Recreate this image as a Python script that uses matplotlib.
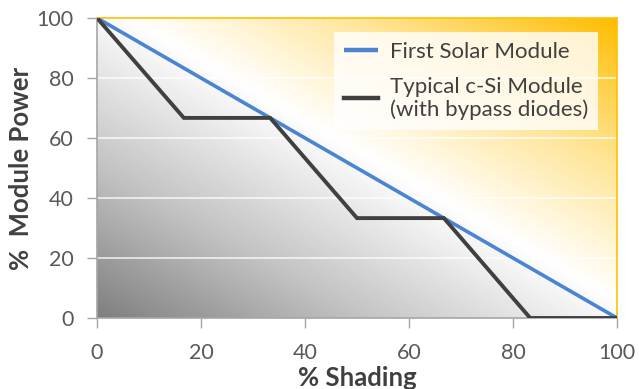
import numpy as np
import matplotlib
matplotlib.use("Agg")
import matplotlib.pyplot as plt
from matplotlib.colors import LinearSegmentedColormap

plt.rcParams['font.family'] = ['Lato', 'DejaVu Sans']

shading_fs = [0, 100]
power_fs = [100, 0]
shading_si = [0, 16.7, 33.3, 50, 66.7, 83.3, 100]
power_si = [100, 66.7, 66.7, 33.3, 33.3, 0, 0]
xticks = [0, 20, 40, 60, 80, 100]
yticks = [0, 20, 40, 60, 80, 100]

fig = plt.figure(figsize=(6.39, 3.89), dpi=100)
ax = fig.add_axes([97/639, 1-318/389, 520/639, 300/389])

# background gradient
n = 300
xx, yy = np.meshgrid(np.linspace(0, 1, n), np.linspace(0, 1, n))
t = (xx + yy) / 2
cmap = LinearSegmentedColormap.from_list('bg', [
    (0.0, (0.50, 0.50, 0.50)),
    (0.25, (0.76, 0.76, 0.76)),
    (0.53, (1.0, 1.0, 1.0)),
    (0.75, (1.0, 0.90, 0.60)),
    (1.0, (1.0, 0.74, 0.0)),
])
ax.imshow(t, extent=[0, 100, 0, 100], origin='lower', aspect='auto', cmap=cmap,
          vmin=0, vmax=1, zorder=0, interpolation='bilinear')

for yv in yticks[1:-1]:
    ax.axhline(yv, color='white', lw=1.2, alpha=0.8, zorder=1)

ax.plot(shading_fs, power_fs, color='#4a84d2', lw=2.6, label='First Solar Module', zorder=3,
        solid_capstyle='butt')
ax.plot(shading_si, power_si, color='#404040', lw=2.8, label='Typical c-Si Module\n(with bypass diodes)',
        zorder=4, solid_joinstyle='miter')

ax.set_xlim(0, 100)
ax.set_ylim(0, 100)
ax.set_xticks(xticks)
ax.set_yticks(yticks)
ax.tick_params(axis='both', direction='out', length=7, width=1, color='#a6a6a6',
               labelcolor='#595959', labelsize=15.5)
ax.tick_params(axis='x', pad=11)
ax.tick_params(axis='y', pad=10)
for s in ['left', 'bottom']:
    ax.spines[s].set_color('#a6a6a6')
    ax.spines[s].set_linewidth(1.2)
for s in ['top', 'right']:
    ax.spines[s].set_color('#ffc000')
    ax.spines[s].set_linewidth(1.2)

ax.set_xlabel('% Shading', fontsize=18.5, fontweight='bold', color='#404040', labelpad=2)
ax.set_ylabel('%  Module Power', fontsize=18.5, fontweight='bold', color='#404040', labelpad=2)

leg = ax.legend(loc='upper right', bbox_to_anchor=(0.963, 0.953), borderaxespad=0,
                frameon=True, fancybox=False, fontsize=16, handlelength=1.55,
                handletextpad=0.5, labelspacing=0.65, borderpad=0.45)
leg.get_frame().set_facecolor((1, 1, 1, 0.85))
leg.get_frame().set_edgecolor('none')
for txt in leg.get_texts():
    txt.set_color('#404040')
    txt.set_linespacing(1.15)
for line in leg.get_lines():
    line.set_linewidth(3.2)

fig.savefig('out.png', dpi=100)
